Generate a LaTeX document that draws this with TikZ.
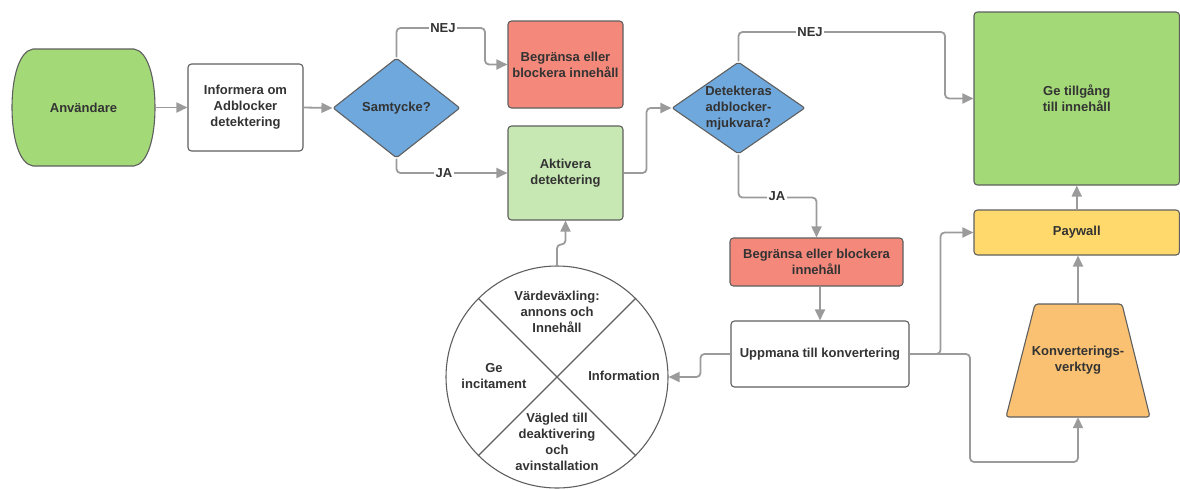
\documentclass[tikz,border=0pt]{standalone}
\usepackage{fontspec}
\setmainfont{Liberation Sans}
\usetikzlibrary{arrows.meta,shapes.geometric,calc}
\definecolor{conn}{RGB}{155,155,155}
\definecolor{edge}{RGB}{95,95,95}
\definecolor{txt}{RGB}{51,51,51}
\definecolor{greenA}{RGB}{163,217,119}
\definecolor{greenB}{RGB}{199,232,178}
\definecolor{redA}{RGB}{244,137,123}
\definecolor{blueA}{RGB}{111,168,220}
\definecolor{yellowA}{RGB}{255,217,107}
\definecolor{orangeA}{RGB}{250,193,114}
\tikzset{
 base/.style={font=\fontsize{13}{16}\selectfont\bfseries, text=txt, align=center, inner sep=0pt},
 box/.style={base, draw=edge, line width=1.1pt, rounded corners=3.5pt},
 dia/.style={base, draw=edge, line width=1.1pt, shape=diamond, fill=blueA, rounded corners=2pt},
 shapeline/.style={draw=edge, line width=1.1pt},
 arr/.style={draw=conn, line width=1.8pt, rounded corners=4pt, -{Triangle[length=11pt,width=10pt]}},
 lbl/.style={base, fill=white, inner sep=1.5pt},
}
\begin{document}
\begin{tikzpicture}[x=1pt,y=-1pt]
\useasboundingbox (0,0) rectangle (1180,488);
% Användare shape
\draw[shapeline, fill=greenA] (33,49) -- (134,49) .. controls (148,51) and (155,78) .. (155,107.5) .. controls (155,137) and (148,164) .. (134,166) -- (33,166) .. controls (19,164) and (12,137) .. (12,107.5) .. controls (12,78) and (19,51) .. (33,49) -- cycle;
\node[base, minimum width=143, minimum height=117] (anv) at (83.5,107.5) {Användare};
\node[box, fill=white, minimum width=115, minimum height=87] (inf) at (245.5,107.5) {Informera om\\Adblocker\\detektering};
\node[dia, minimum width=127, minimum height=100] (sam) at (396.5,108) {Samtycke?};
\node[box, fill=redA, minimum width=115, minimum height=87] (beg1) at (565.5,64.5) {Begränsa eller\\blockera innehåll};
\node[box, fill=greenB, minimum width=115, minimum height=94] (akt) at (565.5,173) {Aktivera\\detektering};
\node[dia, aspect=1.45, minimum width=133, minimum height=92] (d2) at (738.5,108) {Detekteras\\adblocker-\\mjukvara?};
\node[box, fill=greenA, minimum width=205.5, minimum height=173] (ge) at (1076.75,98.5) {Ge tillgång\\till innehåll};
\node[box, fill=yellowA, minimum width=205.5, minimum height=45] (pay) at (1076.75,232.5) {Paywall};
\node[box, fill=redA, minimum width=173, minimum height=48] (beg2) at (816.5,262) {Begränsa eller blockera\\innehåll};
\node[box, fill=white, minimum width=178, minimum height=66] (upp) at (820,354) {Uppmana till konvertering};
% trapezoid
\draw[shapeline, fill=orangeA, rounded corners=3pt] (1035,304) -- (1122,304) -- (1150,417) -- (1006,417) -- cycle;
\node[base, minimum width=144, minimum height=113] (konv) at (1078,360.5) {Konverterings-\\verktyg};
% circle
\node[shapeline, circle, fill=white, minimum size=222, inner sep=0pt] (circ) at (557,377) {};
\draw[shapeline] (circ.45) -- (circ.225);
\draw[shapeline] (circ.135) -- (circ.-45);
\node[base] (c1) at (557,312) {Värdeväxling:\\annons och\\Innehåll};
\node[base] (c2) at (494,376) {Ge\\incitament};
\node[base] (c3) at (624,376) {Information};
\node[base] (c4) at (557,442) {Vägled till\\deaktivering\\och\\avinstallation};
% connectors
\draw[arr] (anv.east) -- (inf.west);
\draw[arr] (inf.east) -- (sam.west);
\draw[arr] (sam.north) |- (485,28) |- (beg1.west);
\node[lbl] (nej1) at (443,28) {NEJ};
\draw[arr] (sam.south) |- (akt.west);
\node[lbl] (ja1) at (444,173) {JA};
\draw[arr] (akt.east) -- ++(23,0) |- (d2.west);
\draw[arr] (d2.north) |- (945,32) |- (ge.west);
\node[lbl] (nej2) at (810,32) {NEJ};
\draw[arr] (d2.south) -- ++(0,43) -| (beg2.north);
\node[lbl] (ja2) at (777,196) {JA};
\draw[arr] (upp.north |- beg2.south) -- (upp.north);
\draw[arr] (upp.east) -- ++(31,0) |- (pay.west);
\draw[arr] (upp.east) -| (970,462) -| (konv.south);
\draw[arr] (pay.north) -- (ge.south);
\draw[arr] (konv.north) -- (konv.north |- pay.south);
\draw[arr] (upp.west) -- ++(-30,0) |- (circ.east);
\draw[arr] (circ.north) -- ++(0,-21) -| (akt.south);
\end{tikzpicture}
\end{document}
